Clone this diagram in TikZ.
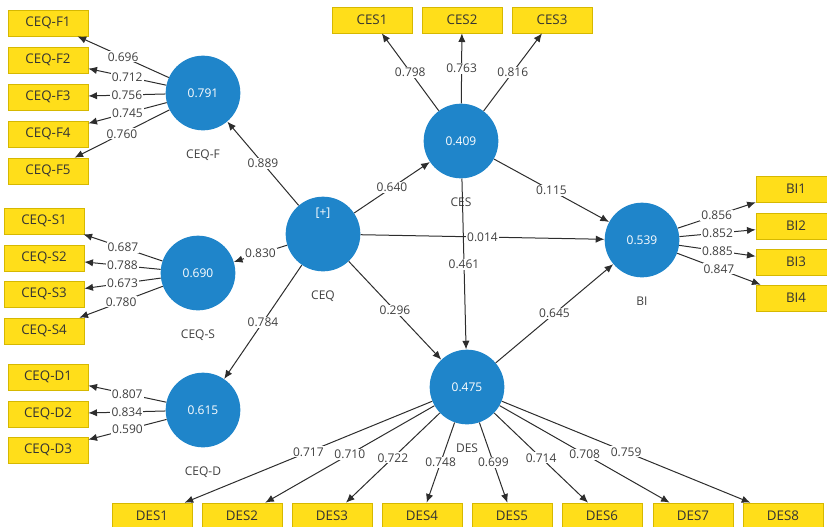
\documentclass[tikz,border=0pt]{standalone}
\usepackage{fontspec}
\setmainfont{Open Sans}
\usetikzlibrary{positioning,arrows.meta}

\definecolor{lvblue}{RGB}{31,133,202}
\definecolor{mvyellow}{RGB}{255,222,26}
\definecolor{mvedge}{RGB}{214,184,0}
\definecolor{linkgray}{RGB}{45,45,45}

\tikzset{
    latent/.style={circle, fill=lvblue, minimum size=56pt, inner sep=0pt, text=white, font=\fontsize{9}{10}\selectfont},
    manifest/.style={rectangle, fill=mvyellow, draw=mvedge, line width=0.5pt, minimum width=60pt, minimum height=19.5pt, inner sep=0pt, text=black!80, font=\fontsize{10}{11}\selectfont},
    lvname/.style={text=black!75, font=\fontsize{9}{10}\selectfont},
    link/.style={draw=linkgray, line width=0.75pt, -{Latex[length=6.5pt,width=5.5pt]}},
    coef/.style={fill=white, inner sep=0.8pt, text=black!75, font=\fontsize{9}{10}\selectfont}
}

\begin{document}
\begin{tikzpicture}[x=0.75pt, y=-0.75pt]
    \useasboundingbox (0,0) rectangle (827,526);

    % Latent variables
    \node[latent] (ceqf) at (203,93) {0.791};
    \node[latent] (ceqs) at (198,273) {0.690};
    \node[latent] (ceqd) at (203,410) {0.615};
    \node[latent] (ceq) at (323,234) {};
    \node[text=white, font=\fontsize{9}{10}\selectfont] (ceqplus) at ([yshift=16pt]ceq.center) {[+]};
    \node[latent] (ces) at (461,141) {0.409};
    \node[latent] (bi) at (642,240) {0.539};
    \node[latent] (des) at (467,387) {0.475};

    % Names under the circles
    \node[lvname, below=11pt of ceqf] (ceqfname) {CEQ-F};
    \node[lvname, below=11pt of ceqs] (ceqsname) {CEQ-S};
    \node[lvname, below=11pt of ceqd] (ceqdname) {CEQ-D};
    \node[lvname, below=11pt of ceq] (ceqname) {CEQ};
    \node[lvname, below=11pt of ces] (cesname) {CES};
    \node[lvname, below=11pt of bi] (biname) {BI};

    % Indicators
    \foreach \i/\y in {1/23, 2/60, 3/97, 4/134, 5/171}
        \node[manifest] (ceqf\i) at (48,\y) {CEQ-F\i};
    \foreach \i/\y in {1/221, 2/258, 3/294, 4/331}
        \node[manifest] (ceqs\i) at (44,\y) {CEQ-S\i};
    \foreach \i/\y in {1/377, 2/414, 3/450}
        \node[manifest] (ceqd\i) at (48,\y) {CEQ-D\i};
    \foreach \i/\x in {1/372, 2/462, 3/552}
        \node[manifest] (ces\i) at (\x,20) {CES\i};
    \foreach \i/\y in {1/189, 2/226, 3/262, 4/298}
        \node[manifest] (bi\i) at (796,\y) {BI\i};
    \foreach \i/\x in {1/152, 2/242, 3/332, 4/422, 5/512, 6/602, 7/693, 8/783}
        \node[manifest] (des\i) at (\x,516) {DES\i};

    % Outer loadings
    \foreach \i/\v in {1/0.696, 2/0.712, 3/0.756, 4/0.745, 5/0.760}
        \draw[link] (ceqf) -- node[coef] {\v} (ceqf\i);
    \foreach \i/\v in {1/0.687, 2/0.788, 3/0.673, 4/0.780}
        \draw[link] (ceqs) -- node[coef] {\v} (ceqs\i);
    \foreach \i/\v in {1/0.807, 2/0.834, 3/0.590}
        \draw[link] (ceqd) -- node[coef] {\v} (ceqd\i);
    \foreach \i/\v in {1/0.798, 2/0.763, 3/0.816}
        \draw[link] (ces) -- node[coef] {\v} (ces\i);
    \foreach \i/\v in {1/0.856, 2/0.852, 3/0.885, 4/0.847}
        \draw[link] (bi) -- node[coef] {\v} (bi\i);
    \foreach \i/\v in {1/0.717, 2/0.710, 3/0.722, 4/0.748, 5/0.699, 6/0.714, 7/0.708, 8/0.759}
        \draw[link] (des) -- node[coef] {\v} (des\i);

    % Paths
    \draw[link] (ceq) -- node[coef] {0.889} (ceqf);
    \draw[link] (ceq) -- node[coef] {0.830} (ceqs);
    \draw[link] (ceq) -- node[coef] {0.784} (ceqd);
    \draw[link] (ceq) -- node[coef] {0.640} (ces);
    \draw[link] (ceq) -- node[coef] {0.014} (bi);
    \draw[link] (ceq) -- node[coef] {0.296} (des);
    \draw[link] (ces) -- node[coef] {0.115} (bi);
    \draw[link] (ces) -- node[coef] {0.461} (des);
    \draw[link] (des) -- node[coef] {0.645} (bi);

    \node[lvname, below=11pt of des] (desname) {DES};
\end{tikzpicture}
\end{document}
